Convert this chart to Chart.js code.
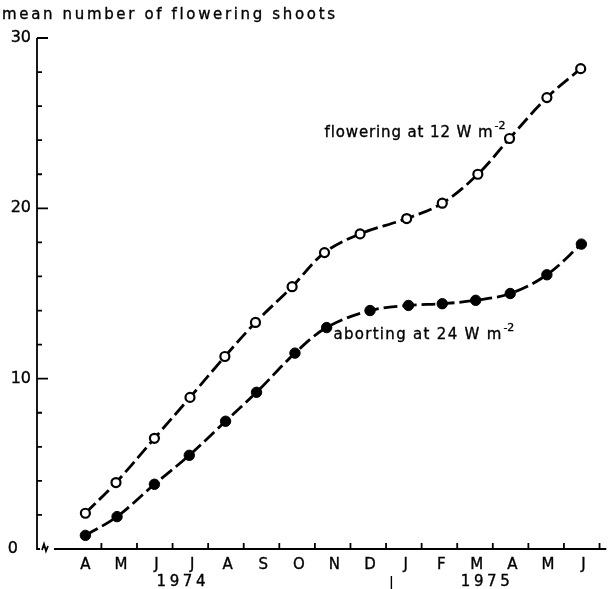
<!DOCTYPE html>
<html>
<head>
<meta charset="utf-8">
<script src="https://cdn.jsdelivr.net/npm/chart.js@4"></script>
<style>
  html, body { margin: 0; padding: 0; background: #fff; }
  canvas { display: block; }
</style>
</head>
<body>
<canvas id="shootsChart" width="613" height="589"></canvas>
<script>
// month positions: 0 = April 1974 ... 14 = June 1975
const months = ["A", "M", "J", "J", "A", "S", "O", "N", "D", "J", "F", "M", "A", "M", "J"];
const years = ["1974", "1975"];
const yTicks = [0, 10, 20, 30];

// flowering at 12 W m-2 (open circles)
const floweringX = [0, 0.86, 1.94, 2.94, 3.92, 4.78, 5.81, 6.72, 7.72, 9.03, 10.03, 11.03, 11.92, 12.97, 13.92];
const floweringY = [2.1, 3.9, 6.5, 8.9, 11.3, 13.3, 15.4, 17.4, 18.5, 19.4, 20.3, 22.0, 24.1, 26.5, 28.2];

// aborting at 24 W m-2 (filled circles)
const abortingX = [0, 0.89, 1.94, 2.92, 3.94, 4.81, 5.89, 6.78, 8.0, 9.08, 10.03, 10.97, 11.94, 12.97, 13.94];
const abortingY = [0.8, 1.9, 3.8, 5.5, 7.5, 9.2, 11.5, 13.0, 14.0, 14.3, 14.4, 14.6, 15.0, 16.1, 17.9];

const toPoints = (xs, ys) => xs.map((x, i) => ({ x: x, y: ys[i] }));

const FONT = '"DejaVu Sans", sans-serif';

// fill + thin stroke, the scanned lettering is a bit heavier than DejaVu
function heavyText(ctx, text, x, y) {
  ctx.lineWidth = 0.35;
  ctx.fillText(text, x, y);
  ctx.strokeText(text, x, y);
}

// draw text squeezed/stretched to a given width with letter spacing
function spacedText(ctx, text, x, y, width) {
  ctx.letterSpacing = "0px";
  const w = ctx.measureText(text).width;
  const sp = (width - w) / Math.max(1, text.length - 1);
  ctx.letterSpacing = sp + "px";
  heavyText(ctx, text, x, y);
  ctx.letterSpacing = "0px";
}

const axesPlugin = {
  id: "axes",
  afterDraw(chart) {
    const ctx = chart.ctx;
    const xs = chart.scales.x;
    const ys = chart.scales.y;
    const x0 = xs.left;
    const y0 = ys.getPixelForValue(0);
    ctx.save();
    ctx.strokeStyle = "#000";
    ctx.fillStyle = "#000";
    ctx.lineWidth = 1.8;

    // y axis with inward ticks
    ctx.beginPath();
    ctx.moveTo(x0, ys.getPixelForValue(30));
    ctx.lineTo(x0, y0);
    ctx.lineTo(x0 + 3, y0);
    for (let v = 2; v <= 30; v += 2) {
      const py = ys.getPixelForValue(v);
      const len = v % 10 === 0 ? 11 : 5;
      ctx.moveTo(x0, py);
      ctx.lineTo(x0 + len, py);
    }
    ctx.stroke();

    // axis break
    ctx.beginPath();
    ctx.moveTo(x0 + 5, y0 + 1);
    ctx.lineTo(x0 + 7, y0 - 5);
    ctx.lineTo(x0 + 9, y0 + 2);
    ctx.lineTo(x0 + 11, y0 - 3);
    ctx.moveTo(x0 + 17, y0);
    ctx.lineTo(xs.right, y0);
    // month ticks, upward
    for (let i = 0; i < months.length; i++) {
      const px = xs.getPixelForValue(i + 0.45);
      ctx.moveTo(px, y0);
      ctx.lineTo(px, y0 - 6);
    }
    ctx.stroke();

    // y tick labels
    ctx.font = "16px " + FONT;
    ctx.textBaseline = "middle";
    ctx.textAlign = "right";
    yTicks.forEach(v => {
      const py = ys.getPixelForValue(v);
      heavyText(ctx, String(v), v === 0 ? x0 - 19 : x0 - 6, py);
    });

    // month labels
    ctx.textAlign = "center";
    ctx.font = "15px " + FONT;
    months.forEach((m, i) => {
      heavyText(ctx, m, xs.getPixelForValue(i), y0 + 16);
    });

    // year labels and divider
    ctx.textAlign = "left";
    ctx.font = "15px " + FONT;
    spacedText(ctx, years[0], xs.getPixelForValue(2.0), y0 + 33, 49);
    spacedText(ctx, years[1], xs.getPixelForValue(10.55), y0 + 33, 49);
    ctx.lineWidth = 1.4;
    ctx.beginPath();
    const dv = xs.getPixelForValue(8.6);
    ctx.moveTo(dv, y0 + 27);
    ctx.lineTo(dv, y0 + 40);
    ctx.stroke();

    // title
    ctx.textBaseline = "alphabetic";
    ctx.font = "15px " + FONT;
    spacedText(ctx, "mean number of flowering shoots", 2, 19, 333);

    // series labels
    ctx.font = "15px " + FONT;
    const fx = xs.getPixelForValue(6.72), fy = ys.getPixelForValue(24.2);
    spacedText(ctx, "flowering at 12 W m", fx, fy, 168);
    ctx.font = "11px " + FONT;
    heavyText(ctx, "-2", fx + 170, fy - 8);
    ctx.font = "15px " + FONT;
    const ax = xs.getPixelForValue(6.97), ay = ys.getPixelForValue(12.3);
    spacedText(ctx, "aborting at 24 W m", ax, ay, 168);
    ctx.font = "11px " + FONT;
    heavyText(ctx, "-2", ax + 170, ay - 8);

    ctx.restore();
  }
};

const ctx = document.getElementById("shootsChart").getContext("2d");
const shootsChart = new Chart(ctx, {
  type: "line",
  data: {
    datasets: [
      {
        label: "flowering at 12 W m-2",
        data: toPoints(floweringX, floweringY),
        borderColor: "#000",
        borderWidth: 2.8,
        borderDash: [14, 5],
        tension: 0.35,
        pointRadius: 4.5,
        pointBorderWidth: 2.2,
        pointBackgroundColor: "#fff",
        pointBorderColor: "#000",
      },
      {
        label: "aborting at 24 W m-2",
        data: toPoints(abortingX, abortingY),
        borderColor: "#000",
        borderWidth: 2.8,
        borderDash: [14, 5],
        tension: 0.35,
        pointRadius: 5.2,
        pointBorderWidth: 1,
        pointBackgroundColor: "#000",
        pointBorderColor: "#000",
      },
    ],
  },
  options: {
    responsive: false,
    animation: false,
    layout: { padding: { left: 37, right: 0, top: 38, bottom: 40 } },
    scales: {
      x: { type: "linear", display: false, min: -1.36, max: 14.64 },
      y: { type: "linear", display: false, min: 0, max: 30 },
    },
    plugins: {
      legend: { display: false },
      tooltip: { enabled: false },
    },
  },
  plugins: [axesPlugin],
});
</script>
</body>
</html>
